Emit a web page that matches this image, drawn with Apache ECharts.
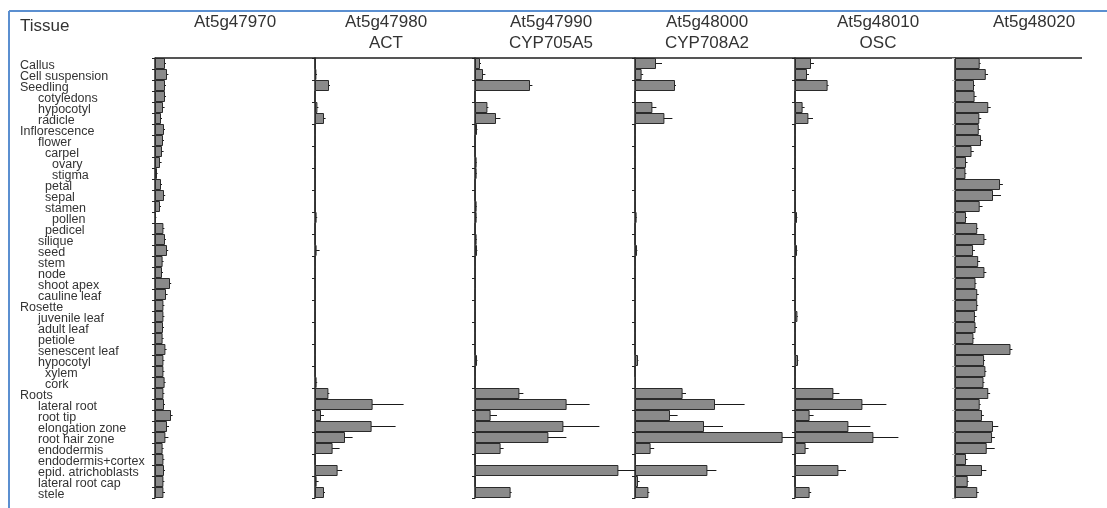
<!DOCTYPE html>
<html>
<head>
<meta charset="utf-8">
<script src="https://cdn.jsdelivr.net/npm/echarts@6/dist/echarts.min.js"></script>
<style>
  html, body { margin: 0; padding: 0; background: #fff; }
  #chart { width: 1107px; height: 508px; }
</style>
</head>
<body>
<div id="chart"></div>
<script>
// tissue rows, top to bottom, and their indent level in the tree
const tissues = [
  "Callus", "Cell suspension", "Seedling", "cotyledons", "hypocotyl", "radicle",
  "Inflorescence", "flower", "carpel", "ovary", "stigma", "petal", "sepal", "stamen",
  "pollen", "pedicel", "silique", "seed", "stem", "node", "shoot apex", "cauline leaf",
  "Rosette", "juvenile leaf", "adult leaf", "petiole", "senescent leaf", "hypocotyl",
  "xylem", "cork", "Roots", "lateral root", "root tip", "elongation zone",
  "root hair zone", "endodermis", "endodermis+cortex", "epid. atrichoblasts",
  "lateral root cap", "stele"
];
const levels = [
  0, 0, 0, 1, 1, 1,
  0, 1, 2, 3, 3, 2, 2, 2,
  3, 2, 1, 1, 1, 1, 1, 1,
  0, 1, 1, 1, 1, 1,
  2, 2, 0, 1, 1, 1,
  1, 1, 1, 1,
  1, 1
];

const genes = ["At5g47970", "At5g47980\nACT", "At5g47990\nCYP705A5",
  "At5g48000\nCYP708A2", "At5g48010\nOSC", "At5g48020"];

// relative expression (same scale in every column, 0..80) and its error
const exp47970 = [5, 6, 5, 5, 4, 3, 4.5, 4, 3.5, 2.5, 1, 3, 4.5, 2.5, 0.5, 4.2, 5, 6, 3.8, 3.5,
  7.5, 5.5, 4.2, 4.2, 4, 3.8, 5.2, 4.2, 4.2, 4.8, 4.2, 4.5, 8, 6, 5.2, 3.8, 4.2, 4.5, 4.2, 4.2];
const err47970 = [0.5, 0.7, 0.5, 0.5, 0.8, 0.5, 0.5, 0.5, 0.8, 0.8, 0.3, 0.5, 0.6, 0.5, 0.2, 0.5, 0.5, 0.6, 0.5, 0.5,
  0.6, 0.8, 0.5, 0.5, 0.5, 0.5, 0.6, 0.5, 0.5, 0.5, 0.5, 0.5, 0.8, 1, 1.5, 0.5, 0.5, 0.5, 0.5, 0.8];

const exp47980 = [0.2, 0.7, 7, 0, 1.2, 4.5, 0.1, 0.1, 0.1, 0.1, 0.1, 0.1, 0.1, 0.1, 0.8, 0.1, 0.2, 0.8, 0.1, 0.1,
  0.1, 0.1, 0.1, 0.1, 0.1, 0.1, 0.1, 0.1, 0.2, 0.8, 6.7, 28.8, 3, 28.3, 15, 8.8, 0.2, 11.3, 0.8, 4.5];
const err47980 = [0, 0.3, 0.5, 0, 0.5, 0.8, 0, 0, 0, 0, 0, 0, 0, 0, 0.3, 0, 0, 1.5, 0, 0,
  0, 0, 0, 0, 0, 0, 0, 0, 0, 0.3, 0.5, 15.5, 1.5, 12, 3.8, 3.5, 0.2, 2.3, 1, 0.5];

const exp47990 = [2.5, 4, 27.5, 0, 6.2, 10.5, 1, 0.1, 0.1, 0.8, 0.8, 0.1, 0.1, 0.8, 0.8, 0.1, 0.8, 1, 0.1, 0.1,
  0.2, 0.1, 0.1, 0.1, 0.1, 0.1, 0.1, 1, 0.1, 0.1, 22.2, 45.8, 7.8, 44.2, 36.7, 12.8, 0.1, 71.7, 0.2, 17.8];
const err47990 = [0.5, 1.2, 1.2, 0, 0.5, 2.2, 0.2, 0, 0, 0.2, 0.2, 0, 0, 0.2, 0.2, 0, 0.2, 0.2, 0, 0,
  0, 0, 0, 0, 0, 0, 0, 0.2, 0, 0, 2, 11.5, 3.2, 18, 9, 1.5, 0, 10.2, 0, 0.5];

const exp48000 = [10.5, 3.3, 20, 0, 8.7, 14.7, 0.1, 0.1, 0.1, 0.1, 0.1, 0.1, 0.1, 0.1, 0.8, 0.1, 0.1, 1, 0.1, 0.1,
  0.1, 0.1, 0.1, 0.1, 0.1, 0.1, 0.1, 1.5, 0.1, 0.5, 23.8, 40, 17.5, 34.5, 73.8, 7.8, 0.5, 36.2, 1.5, 6.7];
const err48000 = [3, 0.8, 0.5, 0, 2, 4, 0, 0, 0, 0, 0, 0, 0, 0, 0.2, 0, 0, 0.2, 0, 0,
  0, 0, 0, 0, 0, 0, 0, 0.2, 0, 0, 1.7, 14.8, 3.8, 9.5, 12.2, 1.8, 0, 4.5, 0.8, 0.5];

const exp48010 = [8, 6, 16.3, 0, 3.8, 6.7, 0.1, 0.1, 0.1, 0.1, 0.1, 0.1, 0.1, 0.1, 1, 0.1, 0.1, 1, 0.1, 0.1,
  0.1, 0.1, 0.1, 1.2, 0.1, 0.1, 0.1, 1.5, 0.1, 0.1, 19.2, 33.7, 7.3, 26.7, 39.2, 5.3, 0.1, 21.7, 0.1, 7.3];
const err48010 = [1.5, 1, 0.5, 0, 1, 2.3, 0, 0, 0, 0, 0, 0, 0, 0, 0.2, 0, 0, 0.2, 0, 0,
  0, 0, 0, 0.2, 0, 0, 0, 0.2, 0, 0, 3, 12, 2, 11, 12.5, 1.5, 0, 3.8, 0, 0.8];

const exp48020 = [13, 16.2, 10, 10.3, 17.5, 12.8, 12.5, 13.7, 8.7, 5.8, 5.5, 23.7, 20, 13, 5.8, 11.7, 15.5, 9.5, 12.2, 15.5,
  10.8, 11.7, 11.7, 10.5, 10.8, 9.7, 29.2, 15.3, 16, 15, 17.5, 13, 14.2, 20, 19.5, 16.7, 5.8, 14.2, 6.7, 11.7];
const err48020 = [0.5, 1.2, 0.5, 1, 1.3, 1, 0.8, 0.8, 1.2, 0.8, 0.5, 1.5, 4.2, 1.5, 0.5, 0.5, 1, 1, 1, 1,
  0.5, 0.8, 0.5, 0.8, 0.8, 0.5, 1, 0.5, 0.5, 0.5, 1, 0.5, 1, 2.8, 1.5, 4.2, 0.8, 2.3, 0.5, 0.8];

const expression = [exp47970, exp47980, exp47990, exp48000, exp48010, exp48020];
const errors = [err47970, err47980, err47990, err48000, err48010, err48020];

const chart = echarts.init(document.getElementById("chart"), null, { renderer: "canvas" });

const colLeft = 155, colWidth = 160, rowsTop = 58, rowH = 11;
const headCentres = [235, 386, 551, 707, 878, 1034];
const indentPx = [0, 18, 25, 32];
const font = "'Liberation Sans', Arial, sans-serif";

const grids = [], xAxes = [], yAxes = [], series = [], titles = [];

titles.push({
  text: "Tissue", left: 20, top: 18, padding: 0,
  textStyle: { fontSize: 17, fontWeight: "normal", color: "#333", fontFamily: font }
});

const rich = {};
indentPx.forEach((p, k) => {
  rich["l" + k] = { padding: [4, 0, 0, p], fontSize: 12.5, color: "#333", fontFamily: font };
});

genes.forEach((g, i) => {
  grids.push({ left: colLeft + colWidth * i, top: rowsTop, width: colWidth, height: rowH * tissues.length });
  xAxes.push({ gridIndex: i, type: "value", min: 0, max: 80, show: false });
  yAxes.push({
    gridIndex: i,
    type: "category",
    inverse: true,
    data: tissues,
    axisLine: { show: true, lineStyle: { color: "#222", width: 1.5 } },
    axisTick: { show: true, length: 3, lineStyle: { color: i === 5 ? "#bbb" : "#222" } },
    axisLabel: i === 0 ? {
      show: true, interval: 0, align: "left", margin: colLeft - 20,
      formatter: (v, idx) => "{l" + levels[idx] + "|" + v + "}",
      rich: rich
    } : { show: false },
    splitLine: { show: false }
  });
  titles.push({
    text: g, left: headCentres[i], top: 12, textAlign: "center", padding: 0,
    textStyle: { fontSize: 17, fontWeight: "normal", color: "#333", lineHeight: 21, fontFamily: font }
  });
  series.push({
    type: "bar",
    xAxisIndex: i, yAxisIndex: i,
    data: expression[i],
    barCategoryGap: "0%",
    itemStyle: { color: "#8a8a8a", borderColor: "#2a2a2a", borderWidth: 1 },
    animation: false,
    silent: true
  });
  series.push({
    type: "custom",
    xAxisIndex: i, yAxisIndex: i,
    data: expression[i].map((v, k) => [v, k, errors[i][k]]),
    encode: { x: 0, y: 1 },
    clip: false,
    renderItem: (params, api) => {
      const v = api.value(0), k = api.value(1), e = api.value(2);
      if (!e) return null;
      const a = api.coord([Math.max(0, v - e), k]);
      const b = api.coord([v + e, k]);
      return {
        type: "line",
        shape: { x1: a[0], y1: a[1], x2: b[0], y2: b[1] },
        style: { stroke: "#1a1a1a", lineWidth: 1 }
      };
    },
    animation: false,
    silent: true
  });
});

chart.setOption({
  animation: false,
  title: titles,
  grid: grids,
  xAxis: xAxes,
  yAxis: yAxes,
  series: series,
  graphic: [
    { type: "line", shape: { x1: 9, y1: 11, x2: 1107, y2: 11 }, style: { stroke: "#5b8fd0", lineWidth: 2 } },
    { type: "line", shape: { x1: 9, y1: 11, x2: 9, y2: 508 }, style: { stroke: "#5b8fd0", lineWidth: 2 } },
    { type: "line", shape: { x1: colLeft, y1: rowsTop, x2: 1082, y2: rowsTop }, style: { stroke: "#555", lineWidth: 2 } }
  ]
});
</script>
</body>
</html>
